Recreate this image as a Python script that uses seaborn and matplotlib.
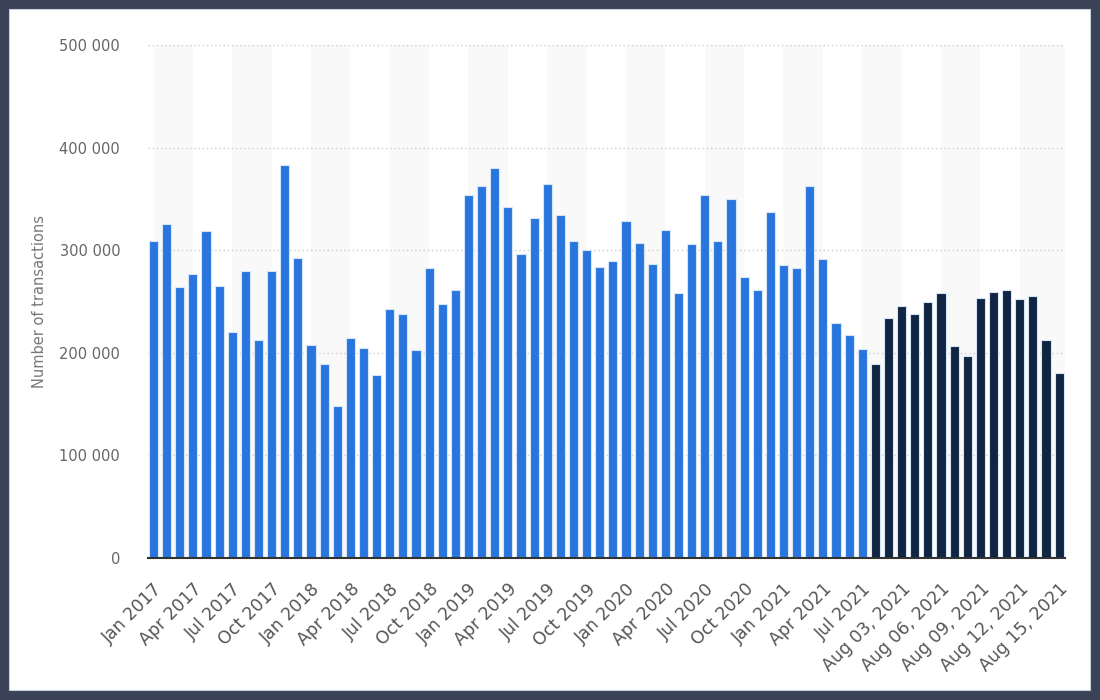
import pandas as pd
import matplotlib.pyplot as plt
import matplotlib.patches as patches
import seaborn as sns

# Monthly transactions Jan 2017 - Jul 2021
monthly_values = [309000, 326000, 264000, 277000, 319000, 265000, 220000, 280000, 212000, 280000, 383000, 292000,
                  208000, 189500, 148000, 214000, 205000, 178000, 243000, 238000, 203000, 283000, 248000, 261000,
                  354000, 363000, 380500, 342500, 296000, 331000, 365000, 334000, 309000, 300000, 284000, 289000,
                  328000, 307500, 287000, 319500, 258000, 306000, 354000, 309000, 350000, 274000, 261000, 337000,
                  286000, 283000, 363000, 291500, 229000, 217000, 203500]

# Daily transactions Aug 01 - Aug 15, 2021
daily_values = [189500, 234000, 246000, 238000, 250000, 258000, 207000, 196500, 253500, 259000,
                261000, 252500, 255000, 212000, 180500]

monthly_labels = [d.strftime('%b %Y') for d in pd.date_range('2017-01-01', periods=len(monthly_values), freq='MS')]
daily_labels = [d.strftime('%b %d, %Y') for d in pd.date_range('2021-08-01', periods=len(daily_values), freq='D')]

df = pd.DataFrame({
    'label': monthly_labels + daily_labels,
    'value': monthly_values + daily_values,
    'period': ['month'] * len(monthly_values) + ['day'] * len(daily_values),
})

sns.set_style('white')
plt.rcParams['font.family'] = ['DejaVu Sans']

fig = plt.figure(figsize=(11, 7), dpi=100)
fig.patch.set_facecolor('#3a4258')
fig.patches.append(patches.Rectangle((9 / 1100, 10 / 700), 1081 / 1100, 681 / 700,
                                     transform=fig.transFigure, facecolor='white',
                                     edgecolor='#c8cfd9', linewidth=0.8, zorder=-10))

ax = fig.add_axes([148 / 1100, 1 - 558 / 700, 917 / 1100, 513 / 700])
ax.set_facecolor('none')

n = len(df)
# alternating background bands between labelled ticks
for start in range(0, n, 6):
    ax.axvspan(start, min(start + 3, n - 1 + 0.45), color='#f9f9f9', zorder=0, lw=0)
ax.axvspan(n - 1, n - 1 + 0.45, color='#f9f9f9', zorder=0, lw=0)

sns.barplot(data=df, x='label', y='value', hue='period', dodge=False, width=0.7,
            palette={'month': '#2876dd', 'day': '#0f2541'}, legend=False, saturation=1,
            edgecolor='#d6e4f7', linewidth=0.8, ax=ax, zorder=3)

ax.set_xlim(-0.42, n - 1 + 0.45)
ax.set_ylim(0, 500000)
ax.set_yticks(range(0, 500001, 100000))
ax.set_yticklabels([f'{v:,}'.replace(',', ' ') for v in range(0, 500001, 100000)],
                   color='#666666', fontsize=10.5)
ax.yaxis.grid(True, color='#cccccc', linestyle=(0, (1, 2)), linewidth=1)
ax.set_axisbelow(True)

tick_pos = list(range(0, n, 3))
ax.set_xticks(tick_pos)
ax.set_xticklabels([df['label'][i] for i in tick_pos], rotation=45, ha='right',
                   rotation_mode='anchor', color='#555555', fontsize=12.5)
ax.tick_params(axis='x', length=0, pad=16)
ax.tick_params(axis='y', length=0, pad=20)

for side in ['top', 'right', 'left']:
    ax.spines[side].set_visible(False)
ax.spines['bottom'].set_color('#333333')
ax.spines['bottom'].set_linewidth(1.5)
ax.spines['bottom'].set_zorder(5)

ax.set_xlabel('')
ax.set_ylabel('Number of transactions', color='#777777', fontsize=10.5, labelpad=9)

fig.savefig('out.png', dpi=100, facecolor=fig.get_facecolor())
